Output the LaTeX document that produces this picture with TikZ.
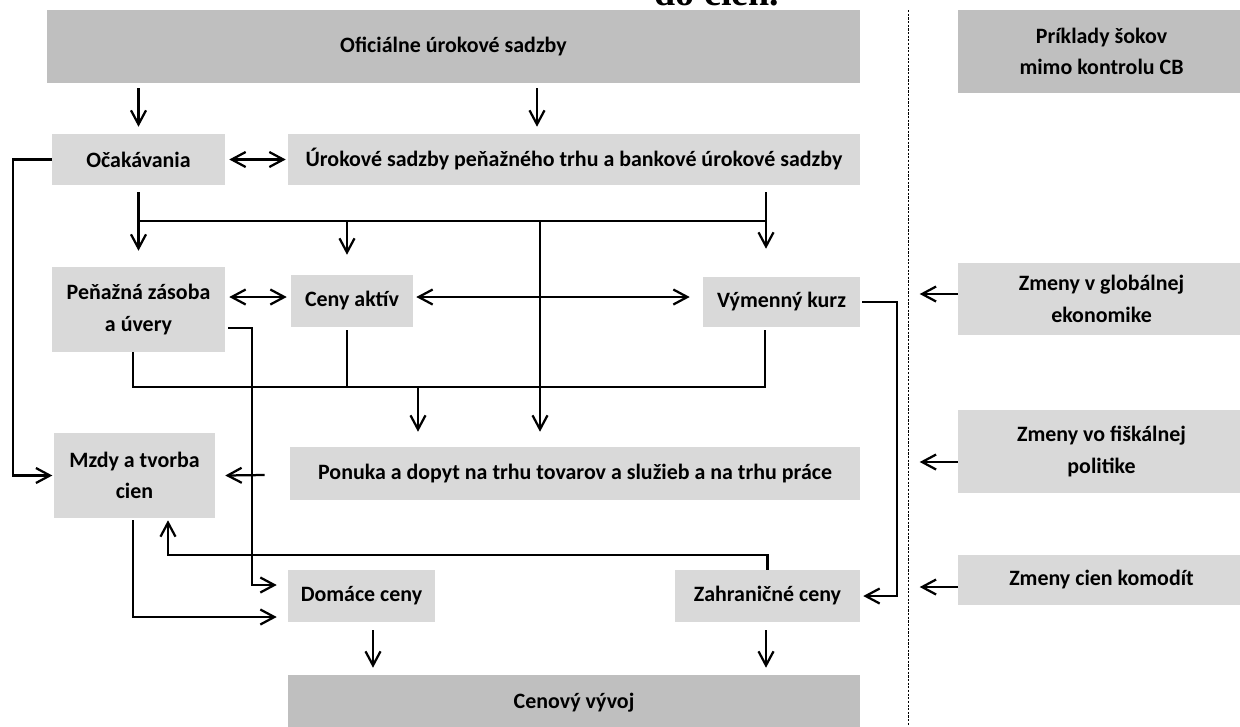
\documentclass[tikz,border=0pt]{standalone}
\usepackage{fontspec}
\setmainfont{Carlito}
\newfontfamily\serifb{Liberation Serif}
\usetikzlibrary{arrows.meta,positioning,calc}
\definecolor{lg}{RGB}{217,217,217}
\definecolor{dg}{RGB}{191,191,191}
\tikzset{r/.style={fill=lg,align=center,inner sep=0pt,font=\bfseries\fontsize{15.6}{22.5}\selectfont},
 d/.style={r,fill=dg},
 wire/.style={line width=1.6pt},
 arr/.style={wire,-{Straight Barb[length=3.5mm,width=3.75mm]}},
 dbl/.style={wire,{Straight Barb[length=3.5mm,width=3.75mm]}-{Straight Barb[length=3.5mm,width=3.75mm]}},
 sep/.style={line width=.6pt,dash pattern=on 1.6pt off 1pt}}
\begin{document}
\begin{tikzpicture}[x=0.25mm,y=-0.25mm]
\useasboundingbox (0,0) rectangle (1240,726);
\clip (0,0) rectangle (1240,726);
\node[font=\serifb\bfseries\fontsize{27}{27}\selectfont,anchor=base] (ttl) at (717,5) {do cien.};
% left part
\node[d,minimum width=203.25mm,minimum height=18.25mm] (off) at (453.5,46.5) {Oficiálne úrokové sadzby};
\node[r,minimum width=43.25mm,minimum height=12.75mm] (ocak) at (138.5,159.5) {Očakávania};
\node[r,minimum width=143mm,minimum height=12.75mm] (urok) at (574,159.5) {Úrokové sadzby peňažného trhu a bankové úrokové sadzby};
\node[r,minimum width=43.25mm,minimum height=21.25mm] (pen) at (138.5,309.5) {Peňažná zásoba\\a úvery};
\node[r,minimum width=30.5mm,minimum height=13mm] (aktiv) at (352,301) {Ceny aktív};
\node[r,minimum width=39.25mm,minimum height=12.5mm] (kurz) at (781.5,302) {Výmenný kurz};
\node[r,minimum width=40.25mm,minimum height=21.25mm] (mzdy) at (134.5,475.5) {Mzdy a tvorba\\cien};
\node[r,minimum width=142.5mm,minimum height=13.25mm] (ponuka) at (575,473.5) {Ponuka a dopyt na trhu tovarov a služieb a na trhu práce};
\node[r,minimum width=36.75mm,minimum height=13mm] (dom) at (361.5,596) {Domáce ceny};
\node[r,minimum width=46.25mm,minimum height=13mm] (zahr) at (767.5,596) {Zahraničné ceny};
\node[d,minimum width=143mm,minimum height=14mm] (cen) at (574,703) {Cenový vývoj};
% shocks
\node[d,minimum width=71.75mm,minimum height=20.75mm] (sok) at (1101.5,51.5) {Príklady šokov\\mimo kontrolu CB};
\node[r,minimum width=71.75mm,minimum height=18mm] (glob) at (1101.5,299) {Zmeny v globálnej\\ekonomike};
\node[r,minimum width=71.75mm,minimum height=20.75mm] (fisk) at (1101.5,451.5) {Zmeny vo fiškálnej\\politike};
\node[r,minimum width=71.75mm,minimum height=12.5mm] (komod) at (1101.5,580) {Zmeny cien komodít};
\draw[sep] (908,10) -- (908,726);

\draw[arr] ($(off.south)+(-315,5)$) -- ($(ocak.north)+(0,-7)$);
\draw[arr] ($(off.south)+(83.5,5)$) -- ($(urok.north)+(-37,-7)$);
\draw[dbl] ($(ocak.east)+(4,0)$) -- ($(urok.west)+(-2,0)$);
\draw[arr,shorten >=1pt] (ocak.west) -- ++(-39,0) |- (mzdy.west);
\draw[arr] ($(ocak.south)+(0,7)$) -- ($(pen.north)+(0,-16)$);
\draw[wire] ($(ocak.south)+(0,36)$) -- ($(urok.south)+(192,36)$);
\draw[arr] ($(urok.south)+(192,7)$) -- ($(kurz.north)+(-15.5,-28)$);
\draw[arr] ($(aktiv.north)+(-5,-54)$) -- ($(aktiv.north)+(-5,-20)$);
\draw[arr] ($(urok.south)+(-34,36)$) -- ($(ponuka.north)+(-35,-15)$);
\draw[dbl] ($(pen.east)+(4,-12.5)$) -- ($(aktiv.west)+(-4,-4)$);
\draw[dbl] ($(aktiv.east)+(3,-4)$) -- ($(kurz.west)+(-13,-5)$);
\draw[wire] ($(pen.south)+(-5.5,0)$) |- ($(kurz.south)+(-16.5,60)$) -- ($(kurz.south)+(-16.5,3)$);
\draw[wire] ($(aktiv.south)+(-5,3)$) -- ($(aktiv.south)+(-5,60)$);
\draw[arr] ($(ponuka.north)+(-157,-60)$) -- ($(ponuka.north)+(-157,-15)$);
\draw[arr] ($(pen.east)+(3,18.5)$) -| ($(dom.west)+(-36,-11)$) -- ($(dom.west)+(-11,-11)$);
\draw[arr] ($(ponuka.west)+(-25,1.5)$) -- ($(mzdy.east)+(10,0)$);
\draw[arr] ($(mzdy.south)+(-1.5,2)$) |- ($(dom.west)+(-11,21)$);
\draw[arr] (zahr.north) |- ($(mzdy.south)+(33.5,37)$) -- ($(mzdy.south)+(33.5,2)$);
\draw[arr] ($(kurz.east)+(2,0)$) -| ($(zahr.east)+(37,0)$) -- ($(zahr.east)+(3,0)$);
\draw[arr] ($(dom.south)+(11.5,8)$) -- ($(cen.north)+(-201,-7)$);
\draw[arr] ($(zahr.south)+(-1.5,8)$) -- ($(cen.north)+(192,-7)$);
\draw[arr] ($(glob.west)+(0,-5)$) -- ($(glob.west)+(-38,-5)$);
\draw[arr] ($(fisk.west)+(0,10.5)$) -- ($(fisk.west)+(-38,10.5)$);
\draw[arr] ($(komod.west)+(0,7)$) -- ($(komod.west)+(-38,7)$);
\end{tikzpicture}
\end{document}
